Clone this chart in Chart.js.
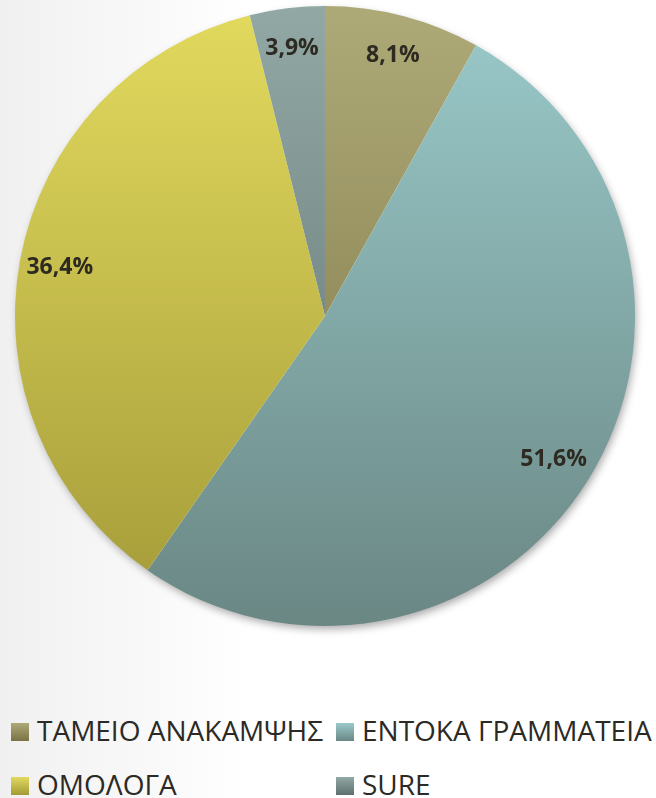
<!DOCTYPE html>
<html>
<head>
<meta charset="utf-8">
<script src="https://cdn.jsdelivr.net/npm/chart.js@4/dist/chart.umd.min.js"></script>
<style>
  body {
    margin: 0;
    width: 656px;
    height: 798px;
    overflow: hidden;
    position: relative;
    background: linear-gradient(to right, #f0f0f0 0%, #ffffff 38%);
    font-family: "Open Sans", sans-serif;
  }
  #myChart { position: absolute; left: 0; top: 0; }
  .box { position: absolute; width: 18px; height: 18px; }
  .txt { position: absolute; font-size: 28px; line-height: 28px; color: #2b2a25; white-space: nowrap; }
</style>
</head>
<body>
<canvas id="myChart" width="656" height="640"></canvas>
<div id="legend"></div>
<script>
const labels = ['ΤΑΜΕΙΟ ΑΝΑΚΑΜΨΗΣ', 'ΕΝΤΟΚΑ ΓΡΑΜΜΑΤΕΙΑ', 'ΟΜΟΛΟΓΑ', 'SURE'];
const shares = [8.1, 51.6, 36.4, 3.9];
const shareLabels = ['8,1%', '51,6%', '36,4%', '3,9%'];

const topColors = ['#aeaa78', '#9acaca', '#e2da5e', '#92a8a4'];
const bottomColors = ['#7a7242', '#6a8784', '#a39a38', '#5d706e'];

function sliceColor(ctx) {
  const i = ctx.dataIndex;
  const area = ctx.chart.chartArea;
  if (!area) return topColors[i];
  const g = ctx.chart.ctx.createLinearGradient(0, area.top, 0, area.bottom);
  g.addColorStop(0, topColors[i]);
  g.addColorStop(1, bottomColors[i]);
  return g;
}

const pieShadow = {
  id: 'pieShadow',
  beforeDatasetsDraw(chart) {
    const arc = chart.getDatasetMeta(0).data[0];
    if (!arc) return;
    const p = arc.getProps(['x', 'y', 'outerRadius'], true);
    const c = chart.ctx;
    c.save();
    c.shadowColor = 'rgba(0,0,0,0.35)';
    c.shadowBlur = 8;
    c.shadowOffsetX = 2;
    c.shadowOffsetY = 4;
    c.fillStyle = '#ffffff';
    c.beginPath();
    c.arc(p.x, p.y, p.outerRadius - 1, 0, Math.PI * 2);
    c.fill();
    c.restore();
  }
};

const sliceLabels = {
  id: 'sliceLabels',
  afterDatasetsDraw(chart) {
    const c = chart.ctx;
    c.save();
    c.font = 'bold 23px "Open Sans", sans-serif';
    c.fillStyle = '#2d2a22';
    c.textAlign = 'center';
    c.textBaseline = 'middle';
    chart.getDatasetMeta(0).data.forEach((arc, i) => {
      const p = arc.getProps(['x', 'y', 'startAngle', 'endAngle', 'outerRadius'], true);
      const mid = (p.startAngle + p.endAngle) / 2;
      const r = p.outerRadius * 0.87;
      c.fillText(shareLabels[i], p.x + Math.cos(mid) * r, p.y + Math.sin(mid) * r);
    });
    c.restore();
  }
};

const data = {
  labels: labels,
  datasets: [{
    data: shares,
    backgroundColor: sliceColor,
    borderWidth: 0
  }]
};

const config = {
  type: 'pie',
  data: data,
  options: {
    responsive: false,
    animation: false,
    layout: { padding: { left: 15, right: 21, top: 6, bottom: 14 } },
    plugins: {
      legend: { display: false },
      tooltip: { enabled: false }
    }
  },
  plugins: [pieShadow, sliceLabels]
};

const myChart = new Chart(document.getElementById('myChart'), config);

// legend, two columns like the original
const legend = document.getElementById('legend');
const colX = [11, 336];
const rowY = [723, 777];
labels.forEach((name, i) => {
  const x = colX[i % 2];
  const y = rowY[Math.floor(i / 2)];
  const box = document.createElement('div');
  box.className = 'box';
  box.style.left = x + 'px';
  box.style.top = y + 'px';
  box.style.background = 'linear-gradient(' + topColors[i] + ', ' + bottomColors[i] + ')';
  legend.appendChild(box);
  const txt = document.createElement('div');
  txt.className = 'txt';
  txt.style.left = (x + 26) + 'px';
  txt.style.top = (y - 7) + 'px';
  txt.textContent = name;
  legend.appendChild(txt);
});
</script>
</body>
</html>
